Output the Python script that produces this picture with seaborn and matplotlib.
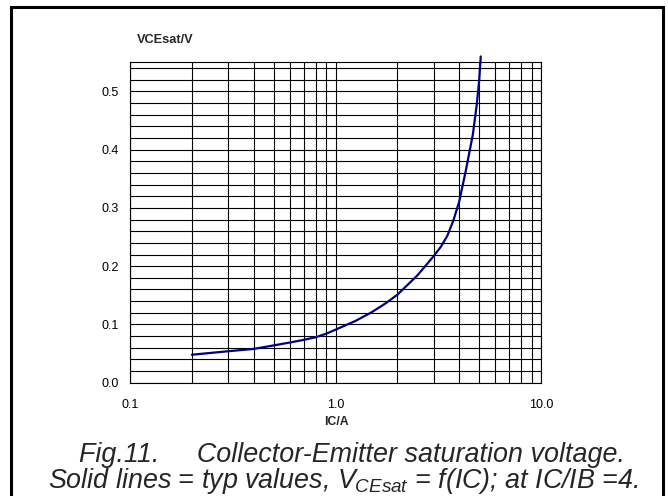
import numpy as np
import pandas as pd
import matplotlib
matplotlib.use("Agg")
import matplotlib.pyplot as plt
import seaborn as sns
from matplotlib.ticker import LogLocator, FixedLocator, NullFormatter
from matplotlib.patches import Rectangle

# ---- data ----
ic_amps = [0.2, 0.3, 0.4, 0.5, 0.6, 0.7, 0.8, 0.9, 1.0, 1.25, 1.5, 1.75, 2.0,
           2.5, 3.0, 3.25, 3.5, 3.75, 4.0, 4.3, 4.66, 4.87, 5.0, 5.09]
vcesat_volts = [0.048, 0.054, 0.058, 0.064, 0.069, 0.0735, 0.078, 0.084, 0.091,
                0.106, 0.121, 0.136, 0.151, 0.184, 0.217, 0.233, 0.252, 0.279,
                0.311, 0.363, 0.426, 0.478, 0.518, 0.56]
x_ticks = [0.1, 1.0, 10.0]
x_tick_labels = ["0.1", "1.0", "10.0"]
y_ticks = [0.0, 0.1, 0.2, 0.3, 0.4, 0.5]
y_tick_labels = ["0.0", "0.1", "0.2", "0.3", "0.4", "0.5"]
y_grid = [0.02 * i for i in range(28)]

df = pd.DataFrame({"IC": ic_amps, "VCEsat": vcesat_volts})

sns.set_style("white")
plt.rcParams["font.family"] = ["Liberation Sans", "DejaVu Sans"]
plt.rcParams["mathtext.fontset"] = "custom"
plt.rcParams["mathtext.it"] = "Liberation Sans:italic"
plt.rcParams["mathtext.rm"] = "Liberation Sans:italic"

W, H = 668, 496
fig = plt.figure(figsize=(W / 100, H / 100), dpi=100)
fig.patch.set_facecolor("white")

L, R, T, B = 130, 541, 62.3, 382.7
ax = fig.add_axes([L / W, 1 - B / H, (R - L) / W, (B - T) / H])

sns.lineplot(data=df, x="IC", y="VCEsat", ax=ax, color="#000080",
             linewidth=1.6, estimator=None, sort=False, clip_on=False, zorder=5)

ax.set_xscale("log")
ax.set_xlim(0.1, 10)
ax.set_ylim(0, 0.55)

ax.xaxis.set_major_locator(FixedLocator(x_ticks))
ax.set_xticklabels(x_tick_labels)
ax.xaxis.set_minor_locator(LogLocator(base=10, subs=np.arange(2, 10)))
ax.xaxis.set_minor_formatter(NullFormatter())
ax.set_yticks(y_ticks)
ax.set_yticklabels(y_tick_labels)
ax.yaxis.set_minor_locator(FixedLocator(y_grid))

ax.grid(which="both", color="black", linewidth=0.8)
ax.tick_params(which="major", direction="out", length=4, width=0.8,
               color="black", labelsize=9, colors="black")
ax.tick_params(axis="x", which="major", pad=8)
ax.tick_params(axis="y", which="major", pad=4)
ax.tick_params(which="minor", length=0)
for s in ax.spines.values():
    s.set_color("black")
    s.set_linewidth(0.8)
ax.set_xlabel("")
ax.set_ylabel("")

def px(x, y):
    return x / W, 1 - y / H

fig.text(*px(136.7, 39.7), "VCEsat/V", fontsize=9.2, fontweight="bold",
         ha="left", va="center")
fig.text(*px(336, 422), "IC/A", fontsize=8.8, fontweight="bold",
         ha="center", va="center")

fig.text(*px(352, 461.7), "Fig.11.     Collector-Emitter saturation voltage.",
         fontsize=19.4, style="italic", ha="center", va="baseline")
fig.text(*px(343, 488.3),
         r"Solid lines = typ values, $V_{CEsat}$ = f(IC); at IC/IB =4.",
         fontsize=19.4, style="italic", ha="center", va="baseline")

# outer thick frame (bottom edge falls outside the picture)
fig.patches.append(Rectangle((10.7 / W, -0.05), (663.3 - 10.7) / W,
                             1 - 6.8 / H + 0.05, transform=fig.transFigure,
                             fill=False, edgecolor="black", linewidth=2.2))

fig.savefig("out.png", dpi=100)
